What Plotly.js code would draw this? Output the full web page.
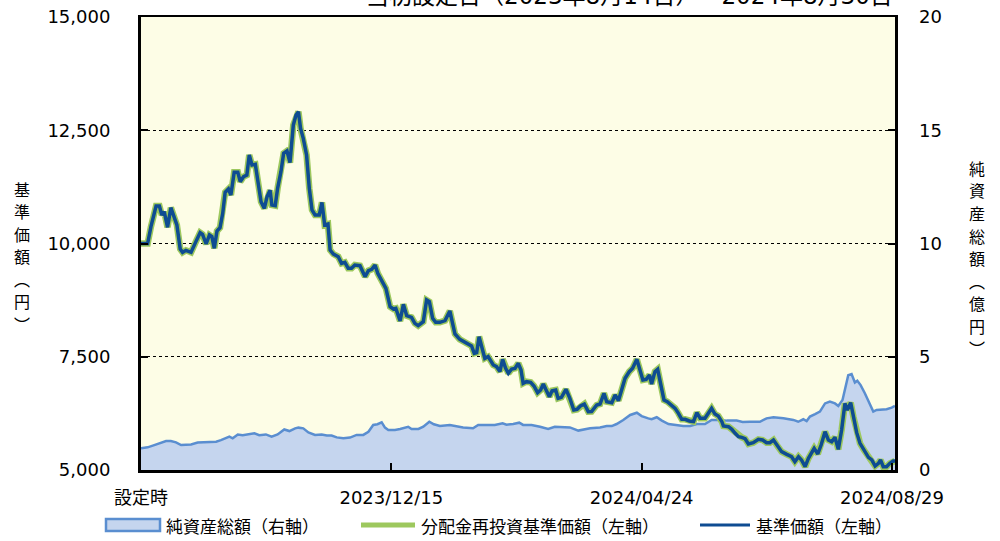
<!DOCTYPE html>
<html>
<head>
<meta charset="utf-8">
<script src="https://cdn.plot.ly/plotly-3.0.1.min.js"></script>
<style>
html,body{margin:0;padding:0;background:#fff;}
#chart{width:1000px;height:541px;}
</style>
</head>
<body>
<div id="chart"></div>
<script>
// ---- Data (x = business-day index from 設定日) ----
const priceDays = [0,2.2,3.3,5.0,6.1,6.9,7.7,8.8,9.9,11.1,11.9,13.0,13.8,14.9,16.6,18.2,19.6,20.4,21.6,22.7,23.5,24.3,25.2,26.2,27.1,27.9,29.0,29.8,30.9,32.1,32.9,34.0,35.1,35.9,36.8,37.9,38.7,39.8,40.9,41.8,42.8,43.4,44.5,45.3,46.4,47.3,48.4,49.4,50.5,51.4,52.2,52.9,53.8,54.9,55.8,56.7,57.7,59.1,60.0,60.9,62.0,62.7,63.8,65.4,66.5,67.6,68.7,69.8,70.9,72.6,74.3,75.4,76.5,77.6,78.5,79.8,81.2,82.6,83.7,84.5,85.9,87.0,88.1,89.7,90.8,91.9,93.6,94.7,95.6,96.7,97.7,99.1,100.8,102.4,104.1,105.7,107.1,108.5,109.6,110.5,111.3,112.1,113.2,114.0,115.1,116.8,117.9,119.0,119.9,120.9,121.8,122.9,124.0,125.1,126.0,126.7,127.8,129.2,130.3,131.5,132.5,133.4,134.2,135.4,136.3,137.5,138.3,139.4,140.9,142.2,143.5,144.6,145.7,147.0,148.3,149.4,151.1,152.2,153.5,154.4,156.1,157.2,158.3,159.4,160.5,161.9,163.0,164.4,165.5,166.4,167.5,168.6,169.3,170.4,171.3,172.3,173.4,174.5,175.8,177.1,178.2,179.3,180.4,181.8,183.2,184.3,185.4,187.0,188.1,189.2,190.3,191.4,192.6,193.1,194.8,195.9,197.0,198.1,199.2,200.3,201.4,203.0,204.7,206.1,207.4,208.5,209.7,211.0,212.4,214.1,215.7,216.8,218.0,219.0,220.2,221.3,222.4,223.2,224.4,225.5,226.8,227.9,229.0,230.1,231.2,232.3,233.4,234.2,235.3,236.2,237.3,238.4,239.7,241.2,242.3,243.4,244.5,245.2,246.1,247.2,248.3,249.4,250];
const basePrice = [10000,10000,10372,10828,10828,10629,10703,10357,10791,10556,10408,9879,9805,9849,9805,10041,10239,10202,9989,10188,10151,9893,10276,10350,10666,11129,11203,11070,11571,11571,11365,11475,11512,11954,11733,11748,11402,10923,10776,11034,11174,10850,10835,11218,11586,11990,12042,11784,12616,12836,12910,12542,12321,11953,11218,10739,10629,10629,10908,10408,10430,9856,9768,9709,9562,9584,9452,9452,9525,9511,9268,9400,9430,9525,9341,9194,9010,8605,8554,8568,8289,8657,8407,8370,8238,8186,8274,8753,8716,8348,8260,8260,8297,8510,8002,7885,7833,7759,7737,7575,7590,7943,7649,7465,7502,7318,7281,7171,7443,7244,7134,7230,7244,7355,7208,6913,6950,6935,6854,6707,6766,6899,6781,6619,6751,6766,6582,6604,6781,6582,6325,6339,6413,6457,6288,6290,6435,6457,6693,6509,6487,6656,6531,6766,7024,7171,7245,7443,7208,6987,7002,7097,6899,7171,7222,6913,6546,6509,6435,6362,6251,6119,6119,6082,6067,6266,6141,6141,6251,6362,6236,6192,6067,5972,5957,5898,5810,5736,5721,5690,5574,5603,5677,5662,5603,5603,5662,5530,5405,5346,5294,5184,5294,5221,5073,5257,5405,5478,5353,5552,5846,5662,5625,5721,5456,5883,6471,6324,6486,6177,5824,5589,5441,5280,5221,5088,5147,5221,5073,5073,5147,5199,5199];
// 分配金なしのため分配金再投資基準価額は基準価額と同値
const reinvestPrice = basePrice.slice();

const navDays = [0,2.2,4.4,6.6,8.3,9.9,11.6,13.3,16.6,18.8,21.0,23.2,24.9,26.5,29.3,30.4,32.1,33.7,35.9,37.6,39.2,41.4,43.3,45.3,47.5,49.2,51.1,52.2,53.8,55.5,57.7,59.9,61.6,63.2,64.9,67.1,69.3,71.5,73.7,75.4,77.0,78.4,79.8,80.9,82.0,84.2,85.9,87.5,88.6,89.7,92.0,93.6,95.6,97.1,99.1,102.4,104.6,106.8,110.1,111.8,114.6,117.3,119.9,121.2,123.4,125.4,126.7,129.5,132.3,135.0,137.2,140.0,142.2,145.0,147.2,148.9,152.2,154.4,156.1,157.7,159.9,162.2,164.4,166.0,168.2,169.3,171.0,172.7,174.9,177.1,179.8,182.1,184.3,187.0,189.2,192.0,194.2,197.5,199.5,201.9,205.2,207.4,209.7,213.0,216.3,217.9,219.6,220.7,221.8,223.5,225.1,226.8,228.4,230.1,231.2,232.6,233.7,234.5,235.6,236.7,237.5,238.6,240.0,241.5,242.8,243.9,245.6,247.2,248.9,250];
const netAssets = [0.96,1.00,1.10,1.22,1.28,1.28,1.22,1.10,1.13,1.21,1.22,1.25,1.25,1.32,1.47,1.40,1.57,1.54,1.57,1.62,1.54,1.57,1.47,1.57,1.79,1.72,1.84,1.87,1.84,1.66,1.55,1.57,1.52,1.52,1.44,1.40,1.43,1.55,1.55,1.69,1.99,2.02,2.10,1.87,1.77,1.77,1.81,1.87,1.91,1.81,1.81,1.91,2.13,2.02,1.94,1.99,1.94,1.88,1.84,1.99,1.99,1.99,2.06,2.00,2.03,2.09,1.99,1.99,1.91,1.81,1.91,1.88,1.88,1.74,1.80,1.84,1.88,1.94,1.94,2.03,2.21,2.43,2.53,2.38,2.28,2.24,2.33,2.18,2.03,1.99,1.94,1.94,2.03,2.03,2.21,2.21,2.18,2.18,2.12,2.13,2.13,2.28,2.33,2.28,2.21,2.13,2.24,2.16,2.36,2.47,2.58,2.94,3.02,2.94,2.83,3.09,3.75,4.19,4.24,3.86,3.94,3.75,3.39,2.94,2.58,2.65,2.68,2.68,2.75,2.83];

const tickDays = [0,83,166,249];
const tickLabels = ['設定時','2023/12/15','2024/04/24','2024/08/29'];
const leftTicks = [5000,7500,10000,12500,15000];
const rightTicks = [0,5,10,15,20];
const titleText = '当初設定日（2023年8月14日）～2024年8月30日';
const leftTitle = '基準価額（円）';
const rightTitle = '純資産総額（億円）';
const legendNames = ['純資産総額（右軸）','分配金再投資基準価額（左軸）','基準価額（左軸）'];

// ---- Styles ----
const C_NAV_FILL = '#C5D5EE', C_NAV_LINE = '#5A8ED0', C_GREEN = '#9DC85E', C_BLUE = '#0E4C92';
const NUMFONT = 'DejaVu Sans, Noto Sans CJK JP, sans-serif';
const CJKFONT = 'Noto Sans CJK JP, sans-serif';

const L = 141, R = 895, T = 17, B = 470, W = 1000, H = 541;
const px = x => (x - L) / (R - L);
const py = y => (B - y) / (B - T);

const traces = [
  {x: navDays, y: netAssets, name: legendNames[0], type: 'scatter', mode: 'lines',
   fill: 'tozeroy', fillcolor: C_NAV_FILL, line: {color: C_NAV_LINE, width: 2.5},
   xaxis: 'x', yaxis: 'y', showlegend: false, hoverinfo: 'skip'},
  {x: priceDays, y: reinvestPrice, name: legendNames[1], type: 'scatter', mode: 'lines',
   line: {color: C_GREEN, width: 6.5}, xaxis: 'x', yaxis: 'y2', showlegend: false, hoverinfo: 'skip'},
  {x: priceDays, y: basePrice, name: legendNames[2], type: 'scatter', mode: 'lines',
   line: {color: C_BLUE, width: 3.5}, xaxis: 'x', yaxis: 'y2', showlegend: false, hoverinfo: 'skip'}
];

// vertical (stacked) axis titles: one glyph per annotation
function verticalTitle(str, cx, cy, step, size) {
  const chars = Array.from(str).map(ch => ch === '（' ? '︵' : ch === '）' ? '︶' : ch);
  const n = chars.length;
  return chars.map((ch, i) => ({
    text: ch, xref: 'paper', yref: 'paper',
    x: px(cx), y: py(cy + (i - (n - 1) / 2) * step),
    xanchor: 'center', yanchor: 'middle', showarrow: false,
    font: {family: CJKFONT, size: size, color: '#000'}
  }));
}

const annotations = [
  {text: titleText, xref: 'paper', yref: 'paper', x: 1, y: 1, xanchor: 'right', yanchor: 'bottom',
   yshift: 6, showarrow: false, font: {family: NUMFONT, size: 23, color: '#000'}},
  ...verticalTitle(leftTitle, 22, 256, 22.5, 16),
  ...verticalTitle(rightTitle, 977, 258, 22.5, 16),
  {text: legendNames[0], xref: 'paper', yref: 'paper', x: px(164), y: py(525), xanchor: 'left', yanchor: 'middle',
   showarrow: false, font: {family: CJKFONT, size: 17, color: '#000'}},
  {text: legendNames[1], xref: 'paper', yref: 'paper', x: px(419), y: py(525), xanchor: 'left', yanchor: 'middle',
   showarrow: false, font: {family: CJKFONT, size: 17, color: '#000'}},
  {text: legendNames[2], xref: 'paper', yref: 'paper', x: px(754), y: py(525), xanchor: 'left', yanchor: 'middle',
   showarrow: false, font: {family: CJKFONT, size: 17, color: '#000'}}
];

const shapes = [
  {type: 'rect', xref: 'paper', yref: 'paper', x0: px(106), x1: px(160), y0: py(519), y1: py(531),
   fillcolor: C_NAV_FILL, line: {color: C_NAV_LINE, width: 2.5}},
  {type: 'line', xref: 'paper', yref: 'paper', x0: px(361), x1: px(415), y0: py(525), y1: py(525),
   line: {color: C_GREEN, width: 5}},
  {type: 'line', xref: 'paper', yref: 'paper', x0: px(700), x1: px(750), y0: py(525), y1: py(525),
   line: {color: C_BLUE, width: 3}}
];

const layout = {
  width: W, height: H,
  margin: {l: L, r: W - R, t: T, b: H - B, pad: 0},
  paper_bgcolor: '#ffffff', plot_bgcolor: '#FDFDE6',
  showlegend: false,
  font: {family: NUMFONT, size: 18, color: '#000'},
  xaxis: {
    range: [0, 250], tickmode: 'array', tickvals: tickDays, ticktext: tickLabels,
    ticks: 'inside', ticklen: 7, tickwidth: 2, tickcolor: '#000',
    showline: true, linecolor: '#000', linewidth: 2.5, mirror: true,
    showgrid: false, zeroline: false, ticklabelstandoff: 10,
    tickfont: {family: NUMFONT, size: 18, color: '#000'}
  },
  yaxis: {
    range: [0, 20], tickmode: 'array', tickvals: rightTicks, side: 'right',
    ticks: 'inside', ticklen: 7, tickwidth: 2, tickcolor: '#000',
    showline: true, linecolor: '#000', linewidth: 2.5,
    showgrid: false, zeroline: false, ticklabelstandoff: 18,
    tickfont: {family: NUMFONT, size: 18, color: '#000'}
  },
  yaxis2: {
    range: [5000, 15000], tickmode: 'array', tickvals: leftTicks, tickformat: ',d',
    overlaying: 'y', side: 'left',
    ticks: 'inside', ticklen: 7, tickwidth: 2, tickcolor: '#000',
    showline: true, linecolor: '#000', linewidth: 3,
    showgrid: true, gridcolor: '#000', gridwidth: 1, griddash: '3px,3px',
    zeroline: false, ticklabelstandoff: 24,
    tickfont: {family: NUMFONT, size: 18, color: '#000'}
  },
  annotations: annotations,
  shapes: shapes
};

Plotly.newPlot('chart', traces, layout, {staticPlot: true, displayModeBar: false});
</script>
</body>
</html>
